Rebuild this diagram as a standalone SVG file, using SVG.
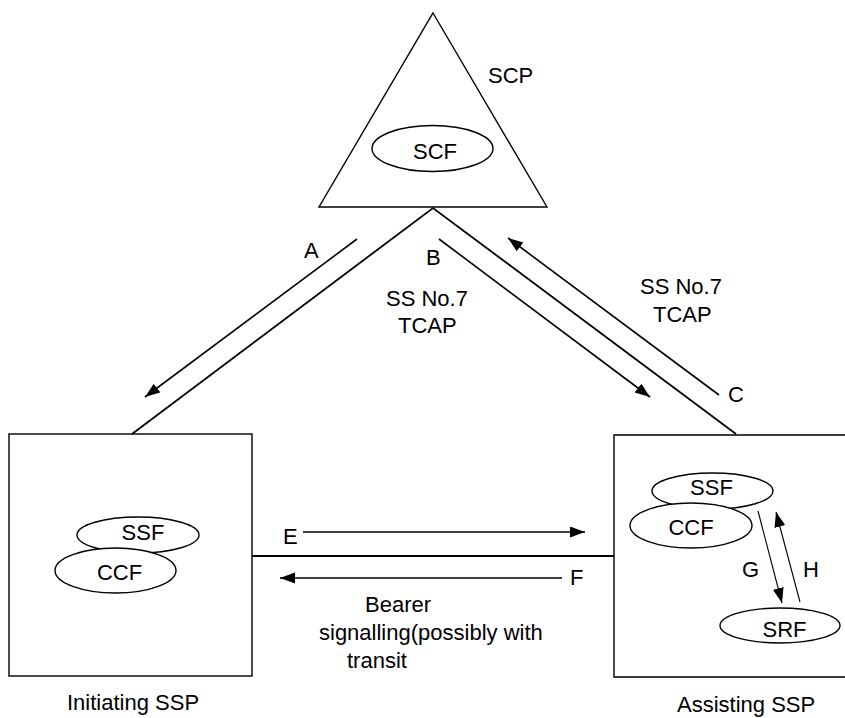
<svg xmlns="http://www.w3.org/2000/svg" width="845" height="718" viewBox="0 0 845 718">
<style>
  text { font-family: "Liberation Sans", Arial, sans-serif; font-size: 22px; fill: #000; }
  .mid { text-anchor: middle; }
  .shape { fill: #fff; stroke: #000; stroke-width: 1.4; }
  .box { fill: none; stroke: #000; stroke-width: 1.4; }
  .link { fill: none; stroke: #000; stroke-width: 1.8; }
  .arr { fill: none; stroke: #000; stroke-width: 1.6; marker-end: url(#ah); }
  .thin { fill: none; stroke: #000; stroke-width: 1.1; marker-end: url(#ah); }
</style>
<defs>
  <marker id="ah" markerUnits="userSpaceOnUse" markerWidth="16" markerHeight="12" refX="15" refY="5.5" orient="auto">
    <path d="M0,0 L15,5.5 L0,11 z" fill="#000"/>
  </marker>
</defs>
<rect width="845" height="718" fill="#fff"/>

<g id="scp">
  <polygon class="shape" points="433,13 547,207 319,207"/>
  <text x="488" y="83">SCP</text>
</g>
<g id="scf">
  <ellipse class="shape" cx="432.5" cy="148.5" rx="60.5" ry="23"/>
  <text class="mid" x="435" y="159">SCF</text>
</g>

<g id="initiating-ssp">
  <rect class="box" x="9" y="434" width="243" height="242"/>
  <text x="67" y="710">Initiating SSP</text>
</g>
<g id="init-ssf">
  <ellipse class="shape" cx="138" cy="535" rx="61" ry="18"/>
  <text class="mid" x="143" y="540">SSF</text>
</g>
<g id="init-ccf">
  <ellipse class="shape" cx="115.5" cy="570.5" rx="60.5" ry="22.5"/>
  <text class="mid" x="119.5" y="580">CCF</text>
</g>

<g id="assisting-ssp">
  <path class="box" d="M850,435 L614,435 L614,677 L850,677"/>
  <text x="677" y="712">Assisting SSP</text>
</g>
<g id="assist-ssf">
  <ellipse class="shape" cx="712.5" cy="491" rx="60.5" ry="18"/>
  <text class="mid" x="711.5" y="495">SSF</text>
</g>
<g id="assist-ccf">
  <ellipse class="shape" cx="691" cy="525.5" rx="61" ry="22.5"/>
  <text class="mid" x="691" y="535">CCF</text>
</g>
<g id="srf">
  <ellipse class="shape" cx="780" cy="625.5" rx="60" ry="17.5"/>
  <text class="mid" x="784.5" y="637">SRF</text>
</g>

<g id="connectors">
  <path class="link" d="M132,434 L433,208 L736,434"/>
  <line class="link" x1="252" y1="556" x2="614" y2="556"/>
  <line class="arr" x1="357" y1="239" x2="145" y2="397"/>
  <line class="arr" x1="439" y1="239" x2="650" y2="397"/>
  <line class="arr" x1="719" y1="395" x2="508" y2="238"/>
  <line class="arr" x1="303" y1="532" x2="585" y2="532"/>
  <line class="arr" x1="562" y1="578" x2="280" y2="578"/>
  <line class="thin" x1="758" y1="511" x2="782" y2="603"/>
  <line class="thin" x1="800" y1="602" x2="776" y2="512"/>
</g>

<g id="labels">
  <text x="304" y="258">A</text>
  <text x="426" y="265">B</text>
  <text x="728" y="402">C</text>
  <text x="386" y="306">SS No.7</text>
  <text x="398" y="333">TCAP</text>
  <text x="640" y="294">SS No.7</text>
  <text x="653" y="322">TCAP</text>
  <text x="283" y="544">E</text>
  <text x="570" y="585">F</text>
  <text x="742" y="577">G</text>
  <text x="803" y="577">H</text>
  <text x="365" y="612">Bearer</text>
  <text x="319" y="640">signalling(possibly with</text>
  <text x="347" y="668">transit</text>
</g>
</svg>
